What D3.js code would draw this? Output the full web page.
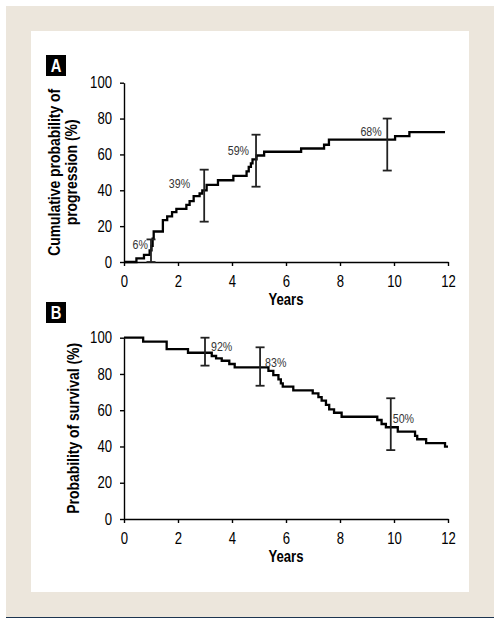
<!DOCTYPE html>
<html><head><meta charset="utf-8">
<script src="https://cdn.jsdelivr.net/npm/d3@7"></script>
<style>
body{margin:0;background:#fff;}
text{font-family:"Liberation Sans",Arial,sans-serif;}
</style></head>
<body><svg id="c" width="500" height="624"></svg>
<script>
// ---- Data ----
const xTicks = [0, 2, 4, 6, 8, 10, 12];
const yTicks = [0, 20, 40, 60, 80, 100];
// Panel A: cumulative probability of progression (step after)
const progYears  = [0, 0.46, 0.74, 0.95, 1.02, 1.06, 1.1, 1.44, 1.6, 1.78, 1.94, 2.31, 2.43, 2.58, 2.8, 2.9, 3.06, 3.48, 4.05, 4.54, 4.62, 4.7, 4.76, 4.91, 5.19, 6.56, 7.41, 7.59, 10.04, 10.57, 11.89];
const progValues = [0, 2, 4, 6.5, 9, 13, 17, 23.3, 25.5, 27.8, 29.6, 31.9, 34, 36.7, 38.2, 40, 43, 45.6, 48, 50.5, 53, 55, 57.2, 59.4, 61.5, 63.3, 65.4, 68.3, 70.2, 72.4, 72.4];
const progErrYears = [1.0, 2.97, 4.89, 9.75];
const progErrLow   = [0, 22.5, 42, 51];
const progErrHigh  = [12.6, 51.5, 71, 80];
const progErrEst   = [6, 39, 59, 68];
const progLabels   = ["6%", "39%", "59%", "68%"];
// Panel B: probability of survival (step after)
const survYears  = [0, 0.71, 1.58, 2.37, 3.25, 3.41, 3.62, 3.9, 4.1, 5.35, 5.53, 5.72, 5.81, 5.88, 6.27, 6.99, 7.2, 7.32, 7.48, 7.6, 7.78, 8.06, 9.38, 9.54, 9.7, 10.14, 10.78, 10.86, 11.19, 11.89, 12];
const survValues = [100, 97.8, 93.7, 91.7, 89.9, 88.6, 87.3, 85.5, 83.6, 81.7, 79.4, 77, 74.8, 73, 71, 69.3, 67.2, 65.3, 62.9, 60.5, 58.6, 56.4, 54.6, 52.4, 50.6, 48.2, 45.8, 44, 41.8, 39.9, 39.9];
const survErrYears = [3.0, 5.04, 9.88];
const survErrLow   = [84.6, 73.5, 38];
const survErrHigh  = [100, 94.7, 66.6];
const survErrEst   = [92, 83, 50];
const survLabels   = ["92%", "83%", "50%"];

// ---- Layout / style ----
const K = 0.82;   // horizontal condensing of the font
const KT = 0.87;  // condensing for y-axis titles
const progLabelOffsets = [{dx:-3, dy:-2.5, anchor:"end"}, {dx:-14, dy:-4.5, anchor:"end"}, {dx:-7, dy:-1, anchor:"end"}, {dx:-5.5, dy:-4, anchor:"end"}];
const survLabelOffsets = [{dx:6, dy:-1.6, anchor:"start"}, {dx:5, dy:-1.5, anchor:"start"}, {dx:2, dy:-5, anchor:"start"}];

function condensed(sel, x, y){
  return sel.attr("transform", `translate(${x},${y}) scale(${K},1)`);
}

const svg = d3.select("#c");
svg.append("rect").attr("x",6).attr("y",6).attr("width",488).attr("height",611).attr("fill","#ece6dc");
svg.append("rect").attr("x",31).attr("y",31).attr("width",438).attr("height",561).attr("fill","#fff");
svg.append("line").attr("x1",6).attr("x2",494).attr("y1",617.5).attr("y2",617.5).attr("stroke","#1c3550").attr("stroke-width",1);

function panel(opt){
  const x = d3.scaleLinear().domain([0,12]).range([124,448]);
  const y = d3.scaleLinear().domain([0,100]).range([opt.y0, opt.y100]);
  const g = svg.append("g");
  const xa = g.append("g").attr("transform",`translate(0,${opt.y0})`)
    .call(d3.axisBottom(x).tickValues(xTicks).tickSize(4).tickSizeOuter(0).tickPadding(10));
  const ya = g.append("g").attr("transform",`translate(124,0)`)
    .call(d3.axisLeft(y).tickValues(yTicks).tickSize(4).tickSizeOuter(0).tickPadding(8));
  [xa,ya].forEach(a=>{
    a.selectAll("path,line").attr("stroke","#000").attr("stroke-width",1.4);
    a.selectAll("text").attr("font-size",16).attr("fill","#000")
      .attr("font-family",'"Liberation Sans",Arial,sans-serif')
      .each(function(){
        const t = d3.select(this);
        const tx = +t.attr("x") || 0;
        t.attr("x", tx / K).attr("transform", `scale(${K},1)`);
      });
  });
  const pts = opt.years.map((d,i)=>[d, opt.values[i]]);
  g.append("path").datum(pts)
    .attr("d", d3.line().x(d=>x(d[0])).y(d=>y(d[1])).curve(d3.curveStepAfter))
    .attr("fill","none").attr("stroke","#000").attr("stroke-width",2.3);
  opt.errYears.forEach((t,i)=>{
    const xx = x(t);
    g.append("line").attr("x1",xx).attr("x2",xx).attr("y1",y(opt.errLow[i])).attr("y2",y(opt.errHigh[i]))
      .attr("stroke","#222").attr("stroke-width",1.8);
    [opt.errLow[i], opt.errHigh[i]].forEach(v=>{
      g.append("line").attr("x1",xx-4.5).attr("x2",xx+4.5).attr("y1",y(v)).attr("y2",y(v))
        .attr("stroke","#222").attr("stroke-width",1.8);
    });
    const o = opt.offsets[i];
    condensed(g.append("text"), xx+o.dx, y(opt.errEst[i])+o.dy)
      .attr("text-anchor",o.anchor).attr("font-size",13).attr("fill","#333")
      .text(opt.labels[i]);
  });
  condensed(g.append("text"), 286, opt.y0+43).attr("text-anchor","middle")
    .attr("font-size",16).attr("font-weight","bold").text("Years");
  const cy = (opt.y0+opt.y100)/2;
  opt.ytitle.forEach((t,i)=>{
    g.append("text").attr("transform",`translate(${opt.ytitleX[i]},${cy}) rotate(-90) scale(${KT},1)`)
      .attr("text-anchor","middle").attr("font-size",16).attr("font-weight","bold").text(t);
  });
  g.append("rect").attr("x",46).attr("y",opt.boxY).attr("width",20).attr("height",21).attr("fill","#000");
  condensed(g.append("text"), 56, opt.boxY+17).attr("text-anchor","middle")
    .attr("font-size",18).attr("font-weight","bold").attr("fill","#fff").text(opt.letter);
}

panel({y0:262, y100:82.7, years:progYears, values:progValues,
  errYears:progErrYears, errLow:progErrLow, errHigh:progErrHigh, errEst:progErrEst,
  labels:progLabels, offsets:progLabelOffsets,
  ytitle:["Cumulative probability of","progression (%)"], ytitleX:[60,77],
  boxY:55, letter:"A"});
panel({y0:519, y100:337.7, years:survYears, values:survValues,
  errYears:survErrYears, errLow:survErrLow, errHigh:survErrHigh, errEst:survErrEst,
  labels:survLabels, offsets:survLabelOffsets,
  ytitle:["Probability of survival (%)"], ytitleX:[79],
  boxY:302, letter:"B"});
</script></body></html>
